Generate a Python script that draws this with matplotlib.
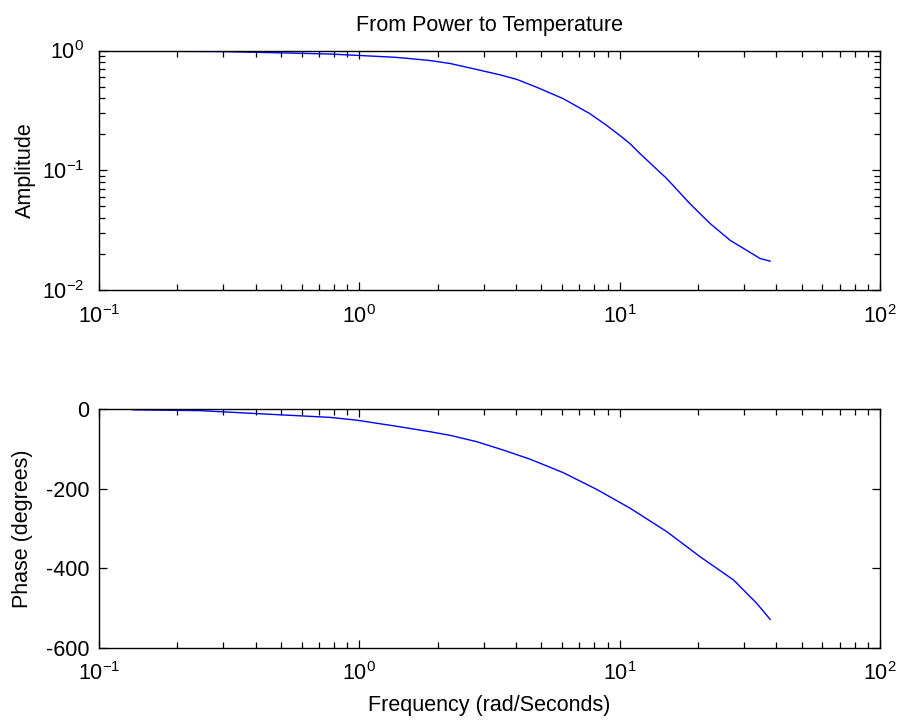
import matplotlib
matplotlib.use("Agg")
import matplotlib.pyplot as plt
from matplotlib.ticker import LogLocator, FixedLocator, NullLocator

# ---- data ----
freq_amp = [0.135, 0.3, 0.51, 0.772, 0.977, 1.351, 1.521, 1.869, 2.23, 2.825, 3.47,
            4.02, 4.80, 6.08, 7.69, 8.92, 10.0, 10.96, 11.97, 15.17, 18.6, 22.25,
            26.55, 30.77, 34.6, 37.8]
amplitude = [0.99, 0.98, 0.956, 0.935, 0.912, 0.88, 0.862, 0.825, 0.78, 0.695, 0.627,
             0.575, 0.494, 0.396, 0.297, 0.237, 0.196, 0.167, 0.138, 0.0853, 0.0528, 0.036,
             0.0261, 0.0215, 0.0184, 0.0175]

freq_phase = [0.135, 0.244, 0.390, 0.772, 0.977, 1.38, 1.869, 2.23, 2.825, 3.57,
              4.53, 6.08, 8.17, 10.96, 15.17, 20.37, 27.34, 33.6, 37.8]
phase = [-2, -4, -11, -21, -28, -43, -57, -66, -82, -103,
         -126, -160, -202, -249, -308, -371, -429, -488, -528]

x_limits = [0.1, 100]
amp_limits = [0.01, 1]
phase_limits = [-600, 0]
phase_ticks = [0, -200, -400, -600]

title = "From Power to Temperature"
xlabel = "Frequency (rad/Seconds)"
amp_label = "Amplitude"
phase_label = "Phase (degrees)"

plt.rcParams['font.family'] = ['Liberation Sans', 'DejaVu Sans']
plt.rcParams['mathtext.fontset'] = 'custom'
plt.rcParams['mathtext.rm'] = 'Liberation Sans'
plt.rcParams['mathtext.it'] = 'Liberation Sans'
plt.rcParams['mathtext.default'] = 'regular'

fs = 15.5
fig = plt.figure(figsize=(8.99, 7.22), dpi=100)
ax1 = fig.add_axes([0.110, 0.598, 0.869, 0.332])
ax2 = fig.add_axes([0.110, 0.1025, 0.869, 0.331])

line_kw = dict(color=(0, 0, 1), lw=1.0)
ax1.loglog(freq_amp, amplitude, **line_kw)
ax2.semilogx(freq_phase, phase, **line_kw)

for ax in (ax1, ax2):
    ax.set_xlim(x_limits)
    ax.xaxis.set_major_locator(LogLocator(base=10, numticks=10))
    ax.xaxis.set_minor_locator(LogLocator(base=10, subs=range(2, 10), numticks=20))
    ax.tick_params(which='both', direction='in', top=True, right=True,
                   labelsize=fs, colors='black', width=0.9)
    ax.tick_params(which='major', length=6)
    ax.tick_params(which='minor', length=4)
    ax.tick_params(axis='x', which='major', pad=10.5)
    for s in ax.spines.values():
        s.set_linewidth(1.0)
        s.set_color('black')

ax1.set_ylim(amp_limits)
ax1.yaxis.set_major_locator(LogLocator(base=10, numticks=10))
ax1.yaxis.set_minor_locator(LogLocator(base=10, subs=range(2, 10), numticks=20))
ax1.tick_params(axis='y', which='major', pad=10.5)
ax1.set_title(title, fontsize=fs, pad=14)
ax1.set_ylabel(amp_label, fontsize=fs, labelpad=4)

ax2.set_ylim(phase_limits)
ax2.yaxis.set_major_locator(FixedLocator(phase_ticks))
ax2.yaxis.set_minor_locator(NullLocator())
ax2.set_yticklabels([str(t) for t in phase_ticks])
ax2.tick_params(axis='y', which='major', pad=7)
ax2.set_xlabel(xlabel, fontsize=fs, labelpad=7)
ax2.set_ylabel(phase_label, fontsize=fs, labelpad=9)

fig.savefig("out.png", dpi=100, facecolor='white')
